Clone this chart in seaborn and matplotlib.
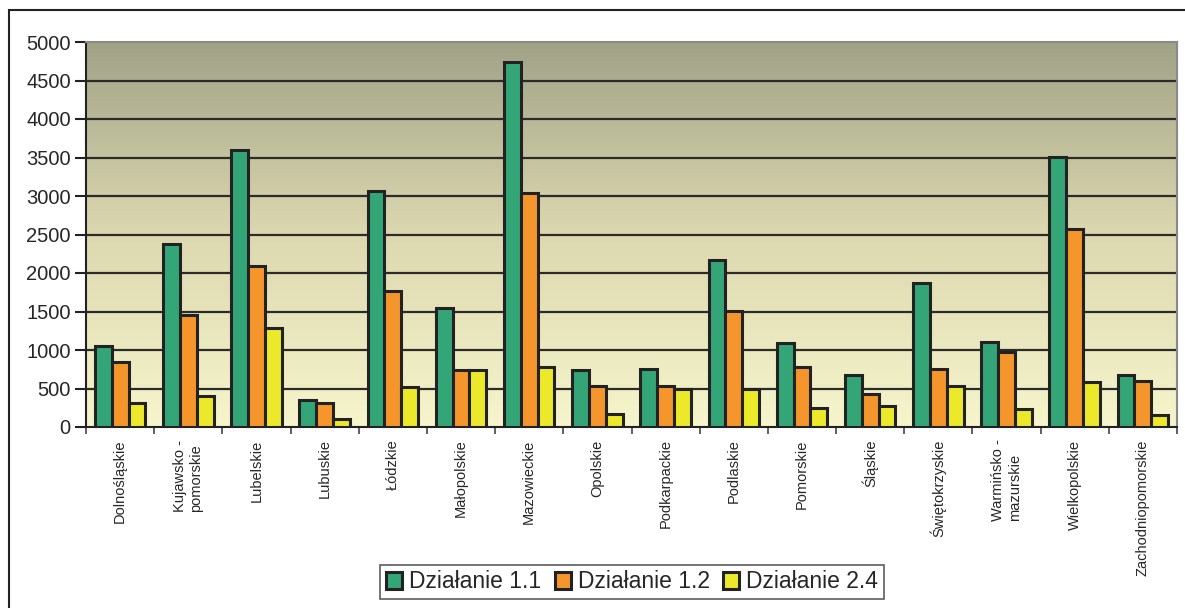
import numpy as np
import pandas as pd
import matplotlib
matplotlib.use("Agg")
import matplotlib.pyplot as plt
import seaborn as sns
from matplotlib.colors import LinearSegmentedColormap
from matplotlib.patches import Rectangle

# data
regions = ["Dolnośląskie", "Kujawsko -\npomorskie", "Lubelskie", "Lubuskie", "Łódzkie",
           "Małopolskie", "Mazowieckie", "Opolskie", "Podkarpackie", "Podlaskie",
           "Pomorskie", "Śląskie", "Świętokrzyskie", "Warmińsko -\nmazurskie",
           "Wielkopolskie", "Zachodniopomorskie"]
dz_11 = [1050, 2380, 3600, 350, 3070, 1540, 4740, 740, 750, 2170, 1090, 675, 1870, 1105, 3510, 675]
dz_12 = [840, 1460, 2090, 310, 1770, 740, 3040, 535, 530, 1510, 775, 435, 755, 970, 2570, 600]
dz_24 = [310, 400, 1280, 110, 520, 740, 775, 170, 490, 490, 250, 270, 530, 235, 580, 150]
series = ["Działanie 1.1", "Działanie 1.2", "Działanie 2.4"]
colors = ["#33a577", "#f5962d", "#ece82a"]
y_ticks = list(range(0, 5001, 500))

df = pd.DataFrame({
    "region": regions * 3,
    "value": dz_11 + dz_12 + dz_24,
    "series": [series[0]] * 16 + [series[1]] * 16 + [series[2]] * 16,
})

sns.set_style("white")
plt.rcParams["font.family"] = ["Liberation Sans", "DejaVu Sans"]

fig = plt.figure(figsize=(11.85, 6.08), dpi=100)
ax = fig.add_axes([86 / 1185, 1 - 427 / 608, (1177 - 86) / 1185, (427 - 42) / 608])

# gradient background of the plot area
cmap = LinearSegmentedColormap.from_list("bg", ["#f6f5cb", "#dcd8b0", "#a1a387"])
grad = np.linspace(0, 1, 256).reshape(-1, 1)
ax.imshow(grad, cmap=cmap, origin="lower", aspect="auto",
          extent=[-0.5, 15.5, 0, 5000], zorder=0)

for y in y_ticks[1:-1]:
    ax.axhline(y, color="#2b2b2b", lw=1.6, zorder=1)

sns.barplot(data=df, x="region", y="value", hue="series", palette=colors,
            saturation=1, width=0.74, edgecolor="#222222", linewidth=2.2,
            ax=ax, zorder=3, legend=True)

ax.set_xlim(-0.5, 15.5)
ax.set_ylim(0, 5000)
ax.set_yticks(y_ticks)
ax.set_yticklabels([str(v) for v in y_ticks], fontsize=14.5)
ax.tick_params(axis="y", length=8, width=1.5, color="#222222", pad=3, left=True)
ax.set_xticks(range(16))
ax.set_xticklabels(regions, rotation=90, fontsize=10.5, va="top", ha="center",
                   multialignment="left")
ax.tick_params(axis="x", which="major", length=0, pad=9)
ax.set_xticks(np.arange(-0.5, 16, 1), minor=True)
ax.tick_params(axis="x", which="minor", length=5, width=1.2, color="#444444", bottom=True)
ax.set_xlabel("")
ax.set_ylabel("")

for side in ["left", "bottom"]:
    ax.spines[side].set_color("#222222")
    ax.spines[side].set_linewidth(1.5)
for side in ["top", "right"]:
    ax.spines[side].set_color("#8a8a8a")
    ax.spines[side].set_linewidth(1.5)

handles, labels = ax.get_legend_handles_labels()
ax.legend(handles, labels, loc="center", bbox_to_anchor=(632 / 1185, 1 - 582 / 608),
          bbox_transform=fig.transFigure, ncol=3, fontsize=16.5, frameon=True,
          fancybox=False, edgecolor="#333333", handlelength=0.7, handleheight=0.7,
          handletextpad=0.3, columnspacing=0.6, borderpad=0.25, borderaxespad=0)
ax.get_legend().get_frame().set_linewidth(1.2)

# outer chart frame
fig.patches.append(Rectangle((9 / 1185, -0.01), 1.1, 1 - 10 / 608 + 0.01,
                             transform=fig.transFigure, fill=False,
                             edgecolor="#222222", linewidth=1.5))

fig.savefig("out.png", dpi=100)
